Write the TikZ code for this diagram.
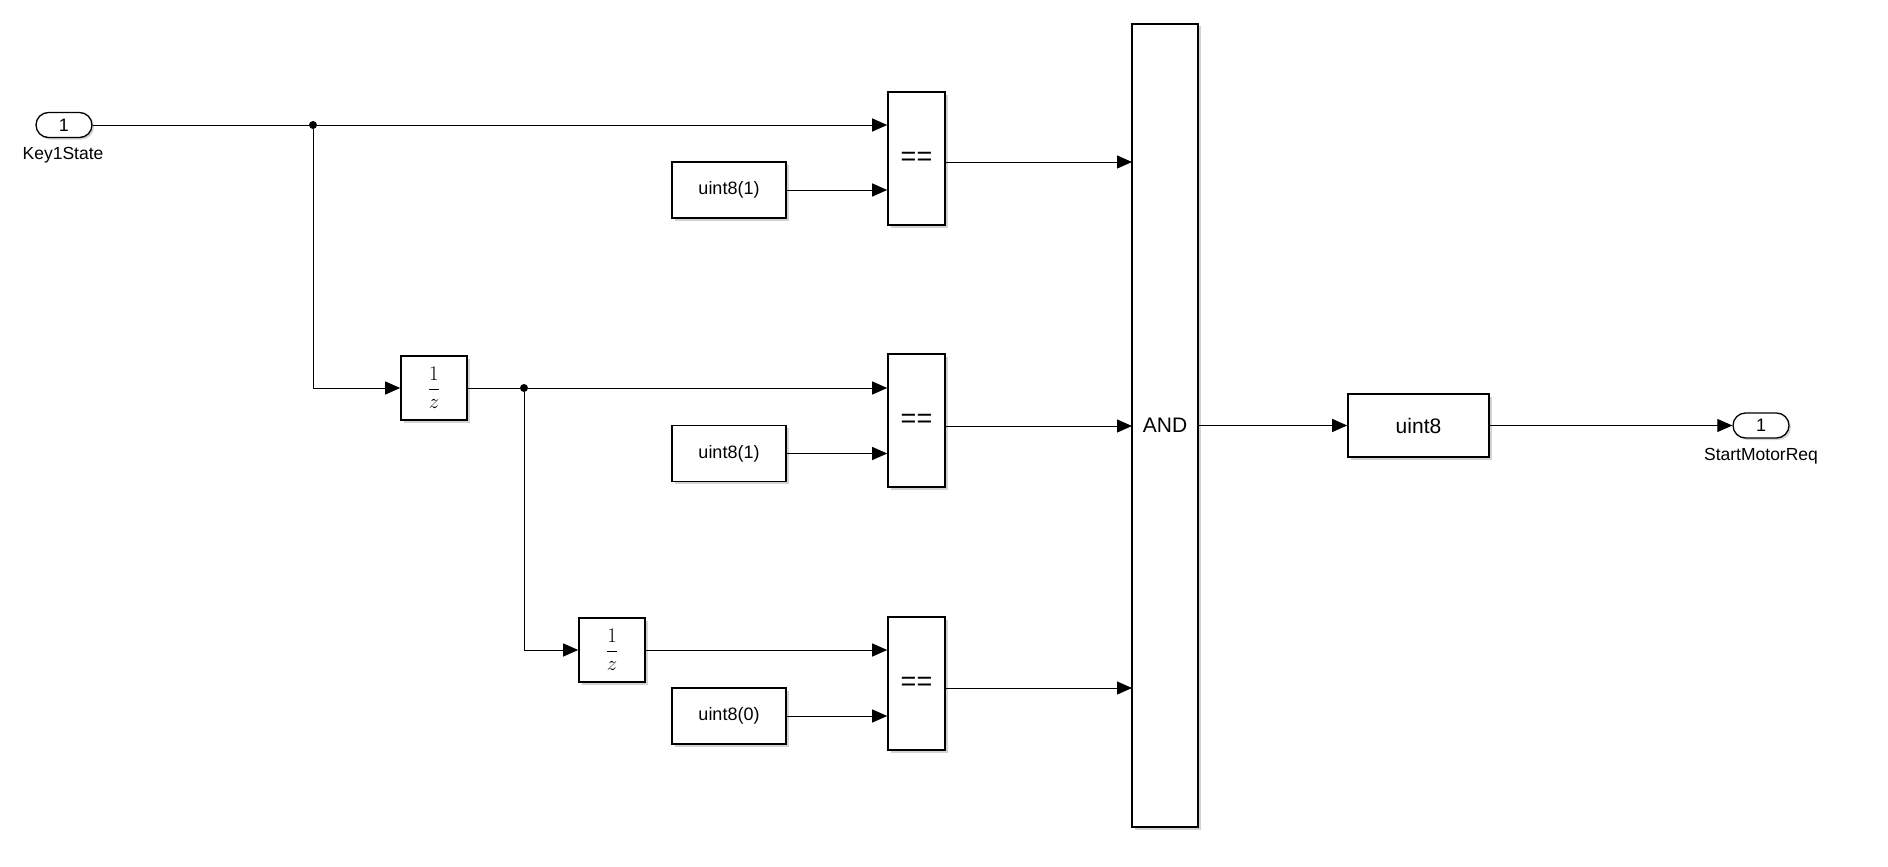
\documentclass[tikz,border=0pt]{standalone}
\usepackage{fontspec}
\setmainfont{Liberation Sans}
\usetikzlibrary{arrows.meta,shapes.misc,shadows,calc}
\begin{document}
\begin{tikzpicture}[x=1pt,y=-1pt,
  blk/.style={draw,line width=1.6pt,fill=white,inner sep=0pt,
    drop shadow={shadow xshift=2.5pt,shadow yshift=-2.5pt,opacity=0.35},
    font=\fontsize{18}{20}\selectfont},
  port/.style={draw,rounded rectangle,line width=1.3pt,fill=white,inner sep=0pt,
    minimum width=56pt,minimum height=25pt,
    drop shadow={shadow xshift=2pt,shadow yshift=-2pt,opacity=0.35},
    font=\fontsize{18}{20}\selectfont},
  lbl/.style={font=\fontsize{17.5}{20}\selectfont,inner sep=0pt},
  wire/.style={line width=1pt,-{Triangle[length=15pt,width=13pt]}},
  plain/.style={line width=1pt},
  dot/.style={circle,fill=black,inner sep=0pt,minimum size=8pt}]
\useasboundingbox (0,0) rectangle (1888,867);

% ports
\node[port] (in1) at (64,125) {1};
\node[lbl] (in1l) at (63,155) {Key1State};
\node[port] (out1) at (1761,425.5) {1};
\node[lbl] (out1l) at (1761,456) {StartMotorReq};

% delays
\node[blk,minimum width=66pt,minimum height=64pt,font=\fontsize{20}{22}\selectfont] (del1) at (434,388) {$\displaystyle\frac{1}{z}$};
\node[blk,minimum width=66pt,minimum height=64pt,font=\fontsize{20}{22}\selectfont] (del2) at (612,650) {$\displaystyle\frac{1}{z}$};

% constants
\node[blk,minimum width=114pt,minimum height=56pt] (k1) at (729,190) {uint8(1)};
\node[blk,minimum width=114pt,minimum height=56pt] (k2) at (729,453.5) {uint8(1)};
\node[blk,minimum width=114pt,minimum height=56pt] (k3) at (729,716) {uint8(0)};

% compare blocks
\node[blk,minimum width=57pt,minimum height=133pt,font=\fontsize{27}{27}\selectfont] (cmp1) at (916.5,158.5) {==};
\node[blk,minimum width=57pt,minimum height=133pt,font=\fontsize{27}{27}\selectfont] (cmp2) at (916.5,420.5) {==};
\node[blk,minimum width=57pt,minimum height=133pt,font=\fontsize{27}{27}\selectfont] (cmp3) at (916.5,683.5) {==};

% AND
\node[blk,minimum width=66pt,minimum height=803pt,font=\fontsize{21}{22}\selectfont] (and) at (1165,425.5) {AND};
\coordinate (a1) at (1132,162);
\coordinate (a2) at (1132,426);
\coordinate (a3) at (1132,688);

% cast
\node[blk,minimum width=141pt,minimum height=63pt,font=\fontsize{21}{22}\selectfont] (cast) at (1418.5,425.5) {uint8};

% branch points
\node[dot] (d1) at (313,125) {};
\node[dot] (d2) at (524,388) {};

% wires
\draw[plain] (in1.east) -- (d1);
\draw[wire] (d1) -- (cmp1.west |- d1);
\draw[wire] (d1) |- (del1.west);
\draw[plain] (del1.east) -- (d2);
\draw[wire] (d2) -- (cmp2.west |- d2);
\draw[wire] (d2) |- (del2.west);
\draw[wire] (del2.east) -- (cmp3.west |- del2.east);
\draw[wire] (k1.east) -- (cmp1.west |- k1.east);
\draw[wire] (k2.east) -- (cmp2.west |- k2.east);
\draw[wire] (k3.east) -- (cmp3.west |- k3.east);
\draw[wire] (cmp1.east |- a1) -- (a1);
\draw[wire] (cmp2.east |- a2) -- (a2);
\draw[wire] (cmp3.east |- a3) -- (a3);
\draw[wire] (and.east) -- (cast.west);
\draw[wire] (cast.east) -- (out1.west);
\end{tikzpicture}
\end{document}
